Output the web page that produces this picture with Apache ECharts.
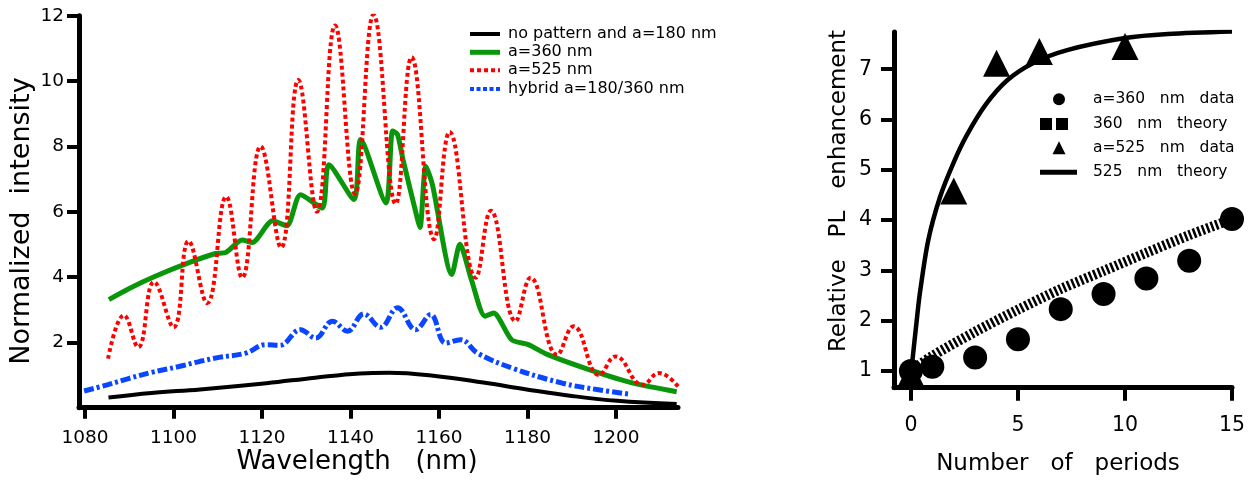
<!DOCTYPE html>
<html>
<head>
<meta charset="utf-8">
<script src="https://cdn.jsdelivr.net/npm/echarts@6/dist/echarts.min.js"></script>
<style>
html,body{margin:0;padding:0;background:#fff;}
#chart{width:1256px;height:480px;}
</style>
</head>
<body>
<div id="chart"></div>
<script>
// ---------- Left panel data: [wavelength (nm), normalized intensity] ----------
const noPattern = [[1085.3,0.31],[1095,0.45],[1106,0.56],[1121,0.75],[1132,0.92],[1142.1,1.05],[1148.7,1.07],[1158.7,0.98],[1170,0.77],[1179.8,0.56],[1190,0.36],[1200.2,0.21],[1213.7,0.11]];
const a360 = [[1085.4,3.31],[1090,3.65],[1096,4.03],[1103.5,4.44],[1109.5,4.72],[1111.8,4.75],[1115.5,5.13],[1117.8,5.06],[1122.4,5.72],[1125.6,5.57],[1128.7,6.52],[1133.6,6.11],[1135.1,7.44],[1140.8,6.37],[1142.3,8.21],[1148,6.27],[1149.5,8.47],[1150.6,8.37],[1151.9,7.57],[1154.7,6.01],[1155.7,5.52],[1157,7.39],[1158.5,6.83],[1162.9,4.08],[1164.7,5.0],[1167.4,3.88],[1170.4,2.8],[1172.3,2.9],[1176.4,2.08],[1180.2,1.93],[1184.3,1.64],[1193.4,1.19],[1203.9,0.75],[1213.7,0.49]];
const a525 = [[1085.2,1.5],[1088.8,2.83],[1092.0,1.85],[1095.6,3.85],[1100.0,2.46],[1103.4,5.1],[1107.6,3.2],[1111.9,6.46],[1115.5,3.98],[1119.7,8.0],[1124.3,4.9],[1128.2,10.03],[1132.4,6.0],[1136.5,11.7],[1141.0,6.55],[1145.2,12.03],[1150.2,6.24],[1153.8,10.73],[1158.9,5.16],[1162.4,8.44],[1168.3,3.98],[1171.7,6.03],[1177.3,2.65],[1180.7,3.98],[1186.7,1.62],[1190.4,2.49],[1196.2,1.0],[1199.9,1.57],[1206.0,0.7],[1209.7,1.06],[1214.0,0.65]];
const hybrid = [[1079.8,0.51],[1085,0.7],[1090,0.9],[1095,1.08],[1101.2,1.26],[1106,1.42],[1110.3,1.54],[1116.3,1.67],[1120.8,1.93],[1124,1.91],[1128.7,2.39],[1132.1,2.13],[1135.9,2.65],[1139.3,2.34],[1143,2.87],[1146.8,2.46],[1150.6,3.06],[1154.7,2.39],[1158.1,2.85],[1161.5,1.98],[1164.9,2.08],[1168.7,1.67],[1176.6,1.21],[1187.9,0.75],[1196,0.55],[1203.3,0.41]];
const wlTicks = [1080,1100,1120,1140,1160,1180,1200];
const intTicks = [2,4,6,8,10,12];
const leftLegend = ['no pattern and a=180 nm','a=360 nm','a=525 nm','hybrid a=180/360 nm'];

// ---------- Right panel data: [number of periods, relative PL enhancement] ----------
const data360 = [[0,1.0],[1,1.085],[3,1.27],[5,1.63],[7,2.23],[9,2.53],[11,2.84],[13,3.19],[15,4.02]];
const theory360 = [[0,1.0],[1,1.3],[3,1.78],[5,2.22],[7,2.63],[9,2.99],[11,3.35],[13,3.7],[15,4.02]];
const data525 = [[0,0.95],[2,4.58],[4,7.12],[6,7.35],[10,7.45]];
const theory525 = [[0,0.93],[0.27,2.0],[0.42,2.55],[0.81,3.6],[1.36,4.46],[2.0,5.15],[2.6,5.68],[3.5,6.3],[4.5,6.78],[5.7,7.12],[7.3,7.38],[10,7.62],[12,7.7],[15,7.75]];
const periodTicks = [0,5,10,15];
const enhTicks = [1,2,3,4,5,6,7];
const rightLegend = ['a=360   nm   data','360   nm   theory','a=525   nm   data','525   nm   theory'];

const FONT = '"DejaVu Sans", sans-serif';

function axisCommon(tickLen, lw) {
  return {
    axisLine: {show: true, onZero: false, lineStyle: {color: '#000', width: lw}},
    axisTick: {show: true, length: tickLen, inside: false, lineStyle: {color: '#000', width: 4}},
    splitLine: {show: false}
  };
}
const plain = function (v) { return String(v); };

const chart = echarts.init(document.getElementById('chart'), null, {renderer: 'canvas'});

const legendLeftY = [34, 52.3, 70.3, 89];
const legendRightY = [99.3, 124, 148.3, 172.3];

const graphics = [
  // axis titles
  {type: 'text', x: 22, y: 221, rotation: Math.PI/2,
   style: {text: 'Normalized  intensity', font: '27px ' + FONT, fill: '#000', align: 'center', verticalAlign: 'middle'}},
  {type: 'text', x: 357, y: 462,
   style: {text: 'Wavelength   (nm)', font: '26px ' + FONT, fill: '#000', align: 'center', verticalAlign: 'middle'}},
  {type: 'text', x: 839, y: 191, rotation: Math.PI/2,
   style: {text: 'Relative   PL   enhancement', font: '23px ' + FONT, fill: '#000', align: 'center', verticalAlign: 'middle'}},
  {type: 'text', x: 1058, y: 464,
   style: {text: 'Number   of   periods', font: '23px ' + FONT, fill: '#000', align: 'center', verticalAlign: 'middle'}},
  // left legend samples
  {type: 'line', shape: {x1: 470, y1: legendLeftY[0], x2: 500, y2: legendLeftY[0]}, style: {stroke: '#000', lineWidth: 4}},
  {type: 'line', shape: {x1: 470, y1: legendLeftY[1], x2: 500, y2: legendLeftY[1]}, style: {stroke: '#0a960a', lineWidth: 5}},
  {type: 'line', shape: {x1: 470, y1: legendLeftY[2], x2: 500, y2: legendLeftY[2]}, style: {stroke: '#ff0000', lineWidth: 4, lineDash: [4, 3]}},
  {type: 'line', shape: {x1: 470, y1: legendLeftY[3], x2: 500, y2: legendLeftY[3]}, style: {stroke: '#0a46ff', lineWidth: 4, lineDash: [4, 2.5]}},
  // right legend samples
  {type: 'circle', shape: {cx: 1059, cy: legendRightY[0], r: 6}, style: {fill: '#000'}},
  {type: 'rect', shape: {x: 1040, y: legendRightY[1]-6, width: 12, height: 12}, style: {fill: '#000'}},
  {type: 'rect', shape: {x: 1056, y: legendRightY[1]-6, width: 12, height: 12}, style: {fill: '#000'}},
  {type: 'polygon', shape: {points: [[1059, legendRightY[2]-7], [1052.5, legendRightY[2]+6], [1065.5, legendRightY[2]+6]]}, style: {fill: '#000'}},
  {type: 'line', shape: {x1: 1040, y1: legendRightY[3], x2: 1077, y2: legendRightY[3]}, style: {stroke: '#000', lineWidth: 5}}
];
leftLegend.forEach(function (t, i) {
  graphics.push({type: 'text', x: 508, y: legendLeftY[i],
    style: {text: t, font: '16px ' + FONT, fill: '#000', align: 'left', verticalAlign: 'middle'}});
});
rightLegend.forEach(function (t, i) {
  graphics.push({type: 'text', x: 1093, y: legendRightY[i],
    style: {text: t, font: '15.5px ' + FONT, fill: '#000', align: 'left', verticalAlign: 'middle'}});
});

const option = {
  animation: false,
  backgroundColor: '#fff',
  grid: [
    {left: 79, top: 15.7, width: 599, height: 392, containLabel: false},
    {left: 894, top: 32, width: 338, height: 355.7, containLabel: false}
  ],
  xAxis: [
    Object.assign({
      type: 'value', gridIndex: 0, min: 1078.64, max: 1214,
      axisLabel: {customValues: wlTicks, formatter: plain, color: '#000', fontSize: 18.5, fontFamily: FONT, margin: 21},
    }, axisCommon(11, 5), {axisTick: {show: true, customValues: wlTicks, length: 11, lineStyle: {color: '#000', width: 4}}}),
    Object.assign({
      type: 'value', gridIndex: 1, min: -0.79, max: 15,
      axisLabel: {customValues: periodTicks, formatter: plain, color: '#000', fontSize: 20.5, fontFamily: FONT, margin: 27},
    }, axisCommon(13, 5), {axisTick: {show: true, customValues: periodTicks, length: 13, lineStyle: {color: '#000', width: 4}}})
  ],
  yAxis: [
    Object.assign({
      type: 'value', gridIndex: 0, min: 0, max: 12,
      axisLabel: {customValues: intTicks, formatter: plain, color: '#000', fontSize: 18.5, fontFamily: FONT, margin: 15},
    }, axisCommon(12, 5), {axisTick: {show: true, customValues: intTicks, length: 12, lineStyle: {color: '#000', width: 4}}}),
    Object.assign({
      type: 'value', gridIndex: 1, min: 0.668, max: 7.74,
      axisLabel: {customValues: enhTicks, formatter: plain, color: '#000', fontSize: 20.5, fontFamily: FONT, margin: 22},
    }, axisCommon(13, 5), {axisTick: {show: true, customValues: enhTicks, length: 13, lineStyle: {color: '#000', width: 4}}})
  ],
  graphic: graphics,
  series: [
    {name: leftLegend[0], type: 'line', xAxisIndex: 0, yAxisIndex: 0, data: noPattern, smooth: 0.4, showSymbol: false, symbol: 'none',
     lineStyle: {color: '#000', width: 4}},
    {name: leftLegend[1], type: 'line', xAxisIndex: 0, yAxisIndex: 0, data: a360, smooth: 0.25, showSymbol: false, symbol: 'none',
     lineStyle: {color: '#0a960a', width: 5}},
    {name: leftLegend[2], type: 'line', xAxisIndex: 0, yAxisIndex: 0, data: a525, smooth: 0.45, showSymbol: false, symbol: 'none',
     lineStyle: {color: '#ff0000', width: 4, type: [4, 3]}},
    {name: leftLegend[3], type: 'line', xAxisIndex: 0, yAxisIndex: 0, data: hybrid, smooth: 0.4, showSymbol: false, symbol: 'none',
     lineStyle: {color: '#0a46ff', width: 5, type: [10, 3, 3, 3]}},

    {name: '525 nm theory', type: 'line', xAxisIndex: 1, yAxisIndex: 1, data: theory525, smooth: 0.3, showSymbol: false, symbol: 'none',
     lineStyle: {color: '#000', width: 4.5}},
    {name: '360 nm theory', type: 'line', xAxisIndex: 1, yAxisIndex: 1, data: theory360, smooth: 0.3, showSymbol: false, symbol: 'none',
     lineStyle: {color: '#000', width: 10, type: [2.5, 2.2], cap: 'butt'}},
    {name: 'a=525 nm data', type: 'scatter', xAxisIndex: 1, yAxisIndex: 1, data: data525, symbol: 'triangle', symbolSize: 27,
     itemStyle: {color: '#000', opacity: 1}},
    {name: 'a=360 nm data', type: 'scatter', xAxisIndex: 1, yAxisIndex: 1, data: data360, symbol: 'circle', symbolSize: 24,
     itemStyle: {color: '#000', opacity: 1}}
  ]
};
chart.setOption(option);
</script>
</body>
</html>
